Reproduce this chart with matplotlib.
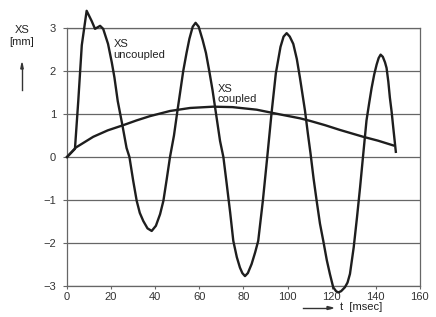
import matplotlib.pyplot as plt

# XS uncoupled (t in msec, XS in mm)
t_unc = [0, 3.6, 5.1, 6.7, 8.9, 11.2, 12.7, 15, 16.4, 18.6, 20.3, 21.5, 23, 25, 27, 28.3,
         30, 31.6, 33, 34.6, 36.5, 38.4, 40.3, 42.2, 43.7, 45.2, 46.7, 48.5, 50, 51.2,
         52.7, 54.2, 55.5, 57, 58.3, 59.7, 61.5, 63, 64.5, 66, 67.5, 69.4, 70.9, 72.4,
         74, 75.4, 77, 78.4, 79.5, 80.7, 82, 83.7, 85.3, 86.7, 88.8, 90.8, 92.8, 94.7,
         96.8, 98.2, 99.6, 101, 102.6, 104.2, 105.6, 107.9, 109.2, 110.4, 111.8, 113.2,
         114.7, 116.2, 117.8, 119.2, 120.7, 122, 123, 124.3, 126, 127.2, 128.3, 130,
         131.5, 132.9, 134.2, 135.8, 137, 138.1, 139.3, 140.4, 141.3, 142.2, 143.2,
         144.2, 144.9, 145.7, 146.4, 147.2, 147.9, 149.1]
xs_unc = [0, 0.19, 1.3, 2.6, 3.4, 3.16, 2.98, 3.05, 2.98, 2.63, 2.2, 1.85, 1.3, 0.77, 0.21, 0,
          -0.55, -1.02, -1.3, -1.49, -1.66, -1.72, -1.6, -1.33, -1.02, -0.52, 0, 0.5, 1.05, 1.47,
          2.0, 2.42, 2.75, 3.03, 3.12, 3.03, 2.72, 2.42, 2.0, 1.55, 1.03, 0.37, 0, -0.62,
          -1.3, -1.95, -2.33, -2.57, -2.7, -2.77, -2.7, -2.49, -2.22, -1.95, -1.02, 0, 1.05, 1.95,
          2.56, 2.8, 2.88, 2.8, 2.63, 2.28, 1.85, 1.08, 0.55, 0.09, -0.5, -1.02,
          -1.55, -1.95, -2.4, -2.72, -3.03, -3.12, -3.15, -3.12, -3.03, -2.92, -2.72, -2.1,
          -1.4, -0.7, 0, 0.85, 1.25, 1.6, 1.92, 2.15, 2.3, 2.38, 2.33,
          2.2, 2.07, 1.75, 1.38, 1.05, 0.7, 0.12]

# XS coupled
t_cpl = [0, 4, 11.9, 18.5, 25.5, 31.5, 37.6, 46.7, 55.8, 66.3, 75, 86, 96.6, 105.6,
         110.2, 117, 123.7, 129, 134.3, 141, 147.9]
xs_cpl = [0, 0.22, 0.47, 0.62, 0.74, 0.85, 0.95, 1.07, 1.14, 1.17, 1.16, 1.1, 0.99, 0.9,
          0.84, 0.74, 0.63, 0.55, 0.47, 0.38, 0.27]

xticks = [0, 20, 40, 60, 80, 100, 120, 140, 160]
yticks = [-3, -2, -1, 0, 1, 2, 3]

plt.rcParams['font.family'] = ['Liberation Sans', 'DejaVu Sans']
fig = plt.figure(figsize=(4.36, 3.17), dpi=100)
ax = fig.add_axes([0.1537, 0.0978, 0.8093, 0.8139])

for y in yticks:
    ax.axhline(y, color='#666666', lw=0.9, zorder=1)

ax.plot(t_unc, xs_unc, color='#1e1e1e', lw=1.7, clip_on=False, zorder=3,
        solid_joinstyle='round')
ax.plot(t_cpl, xs_cpl, color='#1e1e1e', lw=1.7, clip_on=False, zorder=3,
        solid_joinstyle='round')

ax.set_xlim(0, 160)
ax.set_ylim(-3, 3)
ax.set_xticks(xticks)
ax.set_yticks(yticks)
ax.set_yticklabels([str(v).replace('-', '\u2212') for v in yticks])
ax.tick_params(axis='x', direction='out', length=2, width=0.8, color='#666666',
               labelsize=8, pad=2, labelcolor='#333333')
ax.tick_params(axis='y', direction='out', length=3, width=0.8, color='#666666',
               labelsize=8, pad=5, labelcolor='#333333')
for s in ax.spines.values():
    s.set_color('#666666')
    s.set_linewidth(0.9)

ax.text(21, 2.5, 'XS\nuncoupled', fontsize=8, va='center', ha='left',
        linespacing=1.1, color='#222222', zorder=4)
ax.text(68.4, 1.47, 'XS\ncoupled', fontsize=8, va='center', ha='left',
        linespacing=1.0, color='#222222', zorder=4)

# y axis label with arrow
fig.text(22 / 436, 1 - 36 / 317, 'XS\n[mm]', fontsize=8, ha='center', va='center',
         linespacing=1.3, color='#222222')
fig.add_artist(plt.Line2D([22 / 436, 22 / 436], [1 - 90 / 317, 1 - 68 / 317],
                          color='#333333', lw=1.0))
fig.patches.append(plt.Polygon([[20.8 / 436, 1 - 69 / 317], [23.2 / 436, 1 - 69 / 317],
                                [22 / 436, 1 - 63 / 317]], closed=True,
                               transform=fig.transFigure, color='#333333'))

# x axis label with arrow
fig.add_artist(plt.Line2D([303 / 436, 330 / 436], [1 - 308 / 317, 1 - 308 / 317],
                          color='#333333', lw=1.0))
fig.patches.append(plt.Polygon([[327 / 436, 1 - 306.5 / 317], [327 / 436, 1 - 309.5 / 317],
                                [333 / 436, 1 - 308 / 317]], closed=True,
                               transform=fig.transFigure, color='#333333'))
fig.text(340 / 436, 1 - 307 / 317, 't  [msec]', fontsize=8, ha='left', va='center',
         color='#222222')

fig.savefig('out.png', dpi=100)
